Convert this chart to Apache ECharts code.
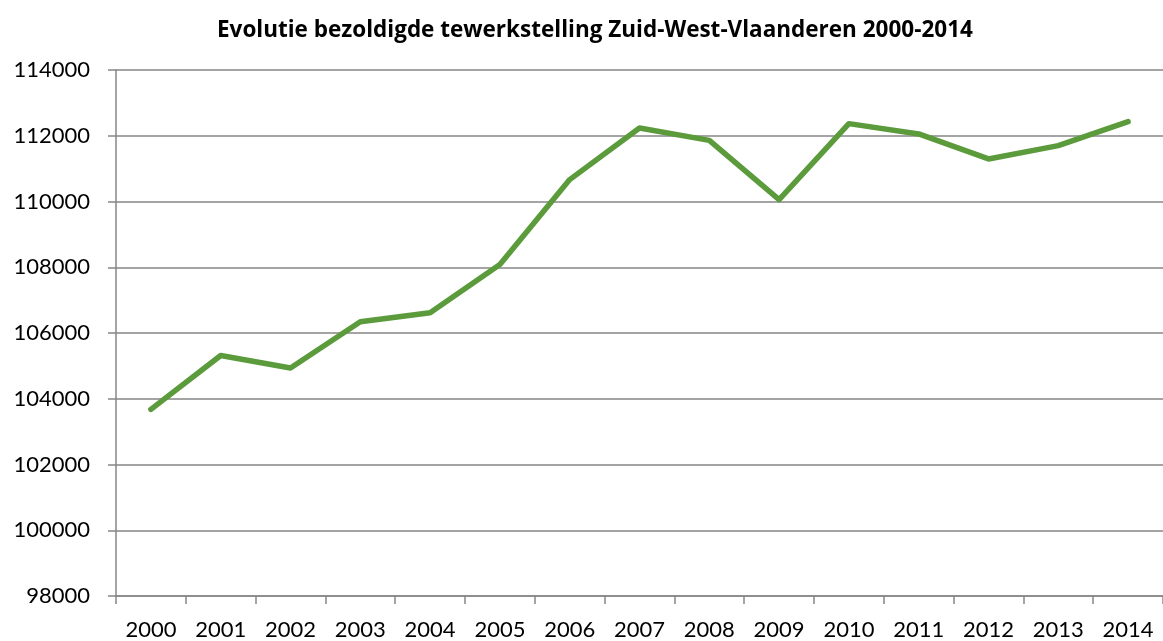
<!DOCTYPE html>
<html lang="nl">
  <head>
    <meta charset="UTF-8" />
    <title>Evolutie bezoldigde tewerkstelling</title>
    <script src="https://cdn.jsdelivr.net/npm/echarts@6/dist/echarts.min.js"></script>
    <style>
      html,
      body {
        margin: 0;
        padding: 0;
        background: #fff;
      }
      #chart {
        width: 1163px;
        height: 641px;
      }
    </style>
  </head>
  <body>
    <div id="chart"></div>
    <script>
      var title = "Evolutie bezoldigde tewerkstelling Zuid-West-Vlaanderen 2000-2014";
      var years = [
        "2000", "2001", "2002", "2003", "2004", "2005", "2006", "2007",
        "2008", "2009", "2010", "2011", "2012", "2013", "2014",
      ];
      var jobs = [
        103675, 105316, 104933, 106340, 106614, 108082, 110666, 112237,
        111860, 110058, 112368, 112055, 111295, 111699, 112429,
      ];

      var myChart = echarts.init(document.getElementById("chart"));
      var gray = "#868686";

      myChart.setOption({
        animation: false,
        title: {
          text: title,
          left: 212,
          top: 14,
          textStyle: {
            fontFamily: "Open Sans",
            fontWeight: "bold",
            fontSize: 22.5,
            color: "#000",
          },
        },
        grid: {
          left: 116,
          right: -3,
          top: 70,
          bottom: 45,
        },
        xAxis: {
          type: "category",
          data: years,
          boundaryGap: true,
          axisLine: { lineStyle: { color: gray, width: 1.5 } },
          axisTick: { show: true, length: 8, lineStyle: { color: gray, width: 1.5 } },
          axisLabel: {
            margin: 23,
            color: "#000",
            fontFamily: "Lato",
            fontSize: 22,
          },
        },
        yAxis: {
          type: "value",
          min: 98000,
          max: 114000,
          interval: 2000,
          axisLine: { show: true, lineStyle: { color: gray, width: 1.5 } },
          axisTick: { show: true, length: 8, lineStyle: { color: gray, width: 1.5 } },
          splitLine: { lineStyle: { color: gray, width: 1.5 } },
          axisLabel: {
            margin: 26,
            color: "#000",
            fontFamily: "Lato",
            fontSize: 22,
            formatter: function (v) {
              return String(v);
            },
          },
        },
        series: [
          {
            type: "line",
            data: jobs,
            showSymbol: false,
            lineStyle: { color: "#5B9B3C", width: 5.5, cap: "round", join: "round" },
            itemStyle: { color: "#5B9B3C" },
          },
        ],
      });
    </script>
  </body>
</html>
